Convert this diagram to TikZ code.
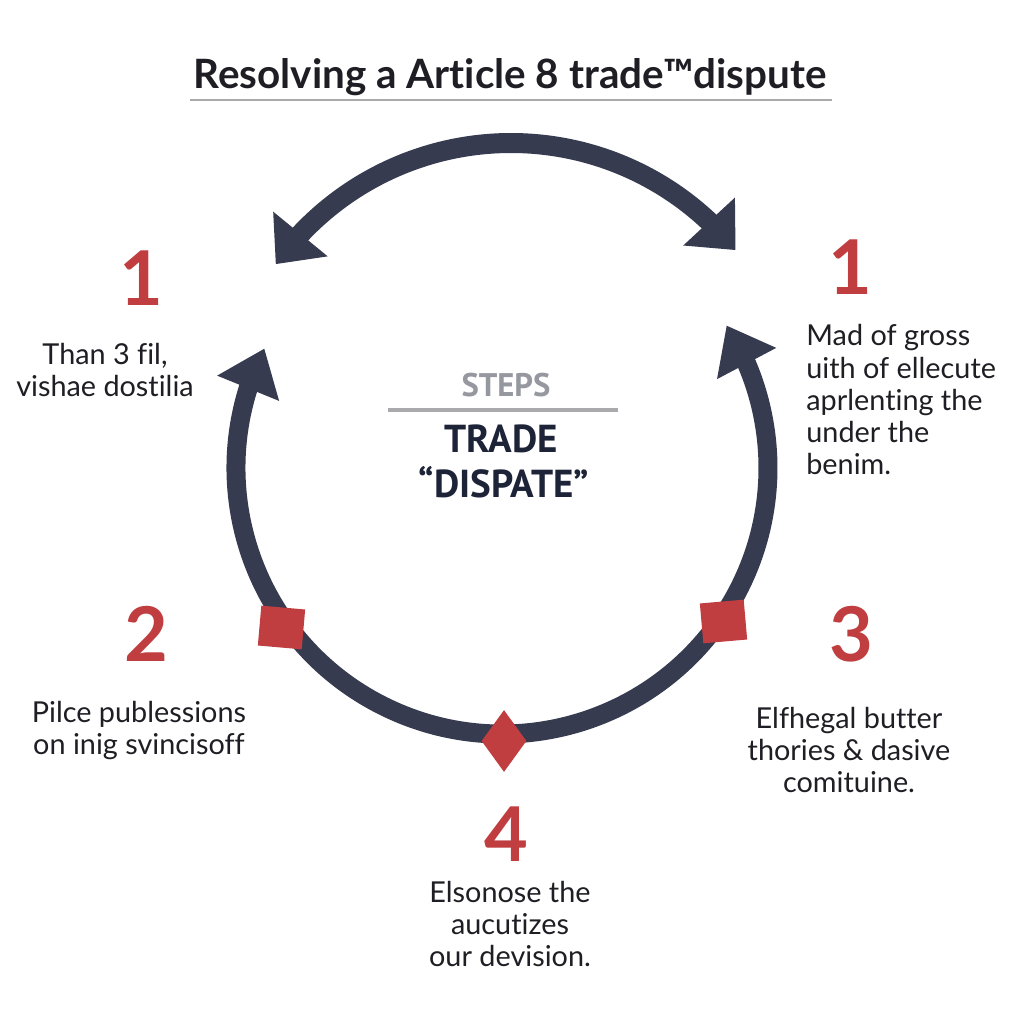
\documentclass[tikz,border=0pt]{standalone}
\usepackage{fontspec}
\setmainfont{Lato}[Ligatures={NoCommon}]
\newfontfamily\ctrfont{PT Sans}
\usetikzlibrary{arrows.meta,bending,shapes.geometric}
\definecolor{arcnavy}{RGB}{54,59,80}
\definecolor{markred}{RGB}{192,62,64}
\definecolor{inkdark}{RGB}{30,30,36}
\definecolor{ctrnavy}{RGB}{30,36,56}
\definecolor{ctrgray}{RGB}{150,152,160}
\definecolor{rulegray}{RGB}{170,170,172}
\tikzset{
  lowarc/.style={line width=0.38cm,draw=arcnavy,
    {Triangle[length=8.6mm,width=12.8mm]}-{Triangle[length=8.6mm,width=12.8mm]}},
  toparc/.style={line width=0.4cm,draw=arcnavy,
    {Triangle[length=7.8mm,width=13.6mm]}-{Triangle[length=7.8mm,width=13.6mm]}},
  sqmark/.style={rectangle,fill=markred,minimum width=0.88cm,minimum height=0.8cm,inner sep=0},
  dmmark/.style={diamond,fill=markred,minimum width=0.9cm,minimum height=1.24cm,inner sep=0},
  numlbl/.style={anchor=base,inner sep=0,text=markred,font=\bfseries\fontsize{43}{43}\selectfont},
  steptxt/.style={anchor=base,inner sep=0,align=center,text=inkdark,font=\fontsize{16.4}{18.4}\selectfont}
}
\begin{document}
\begin{tikzpicture}[x=0.02cm,y=0.02cm]
\fill[white] (0,0) rectangle (1024,1024);
\useasboundingbox (0,0) rectangle (1024,1024);
% title
\node[anchor=base,inner sep=0,text=inkdark,font=\bfseries\fontsize{23}{26}\selectfont] (title) at (510,935) {Resolving a Article 8 trade™dispute};
\draw[rulegray,line width=0.05cm] (190,924) -- (832,924);
% arcs
\coordinate (O1) at (502,556);
\coordinate (O2) at (511,592);
\coordinate (L1) at ([shift={(153.3:266)}]O1);
\coordinate (T1) at ([shift={(144.5:289)}]O2);
\draw[lowarc] (L1) arc[start angle=153.3,end angle=392.4,radius=266];
\draw[toparc] (T1) arc[start angle=144.5,end angle=39,radius=289];
% markers
\node[sqmark,rotate=-5] (m2) at (281.5,396.5) {};
\node[sqmark,rotate=5] (m3) at (723.5,402.5) {};
\node[dmmark] (m4) at (504,283) {};
% centre
\node[anchor=base,inner sep=0,text=ctrgray,font=\ctrfont\bfseries\fontsize{18.6}{20}\selectfont] (steps) at (506,627) {STEPS};
\draw[rulegray,line width=0.08cm] (388,614) -- (618,614);
\node[anchor=base,inner sep=0,text=ctrnavy,font=\ctrfont\bfseries\fontsize{22.2}{24}\selectfont] (trade) at (501,571) {TRADE};
\node[anchor=base,inner sep=0,text=ctrnavy,font=\ctrfont\bfseries\fontsize{22.2}{24}\selectfont] (disp) at (504,526) {“DISPATE”};
% numbers
\node[numlbl] (n1l) at (141,718) {1};
\node[numlbl] (n1r) at (850,729) {1};
\node[numlbl] (n2) at (146,362) {2};
\node[numlbl] (n3) at (851,362) {3};
\node[numlbl] (n4) at (506,162) {4};
% step texts (base = last line)
\node[steptxt] (t1l) at (105,627) {Than 3 fil,\\vishae dostilia};
\node[steptxt,anchor=base west,align=left] (t1r) at (806,549) {Mad of gross\\uith of ellecute\\aprlenting the\\under the\\benim.};
\node[steptxt] (t2) at (139,269) {Pilce publessions\\on inig svincisoff};
\node[steptxt] (t3) at (849,231) {Elfhegal butter\\thories \& dasive\\comituine.};
\node[steptxt] (t4) at (510,57) {Elsonose the\\aucutizes\\our devision.};
\end{tikzpicture}
\end{document}
